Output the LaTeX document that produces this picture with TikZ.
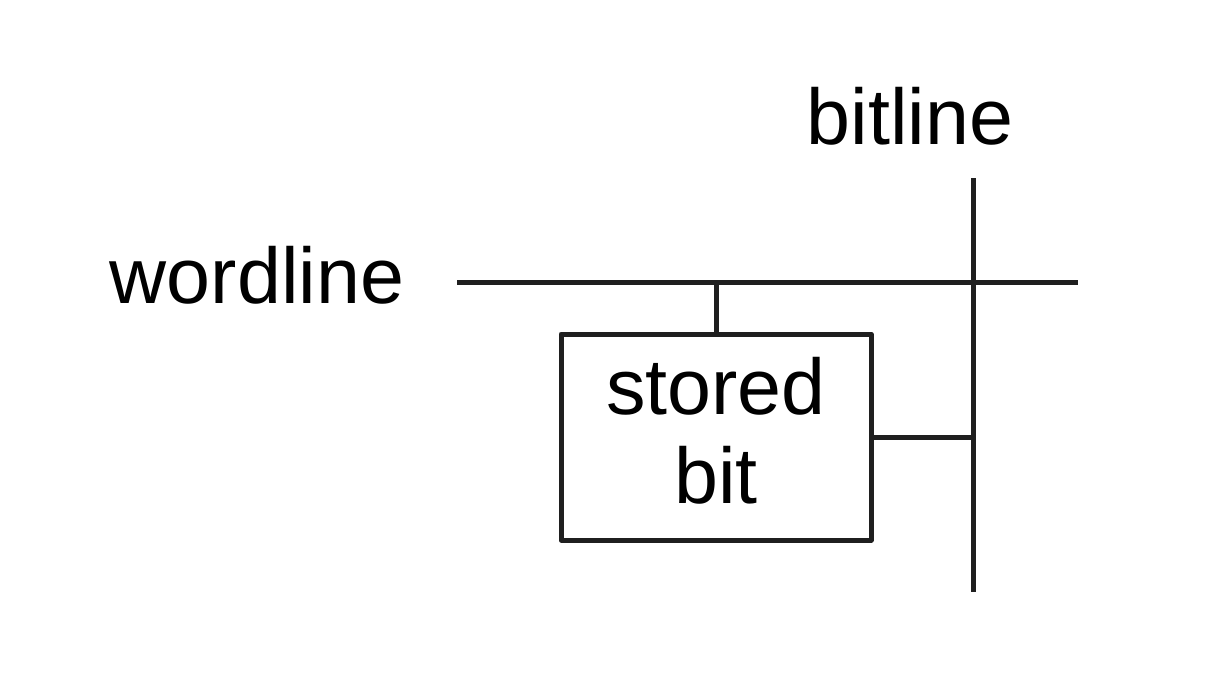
\documentclass[tikz,border=0pt]{standalone}
\usepackage{fontspec}
\setmainfont{Liberation Sans}
\begin{document}
\begin{tikzpicture}[x=1pt,y=-1pt,
  wire/.style={line width=5pt, draw=black!88},
  lbl/.style={font=\fontsize{79}{89}\selectfont, inner sep=0pt, anchor=base},
  cellbox/.style={draw=black!88, line width=5pt, line join=round, minimum width=310pt, minimum height=206pt, inner sep=0pt}]
\useasboundingbox (0,0) rectangle (1212,674);
\node[lbl] (wl) at (257,303) {wordline};
\node[lbl] (bl) at (910,145) {bitline};
\node[cellbox] (cell) at (716,437) {};
\node[lbl] (t1) at (716,414) {stored};
\node[lbl] (t2) at (716,503) {bit};
\coordinate (wlA) at (457,282);
\coordinate (wlB) at (1078,282);
\coordinate (blA) at (973,178);
\coordinate (blB) at (973,592);
\coordinate (tap) at (716,282);
\coordinate (btap) at (973,437);
\draw[wire] (wlA) -- (wlB);
\draw[wire] (blA) -- (blB);
\draw[wire] (tap) -- (cell.north);
\draw[wire] (cell.east) -- (btap);
\end{tikzpicture}
\end{document}
